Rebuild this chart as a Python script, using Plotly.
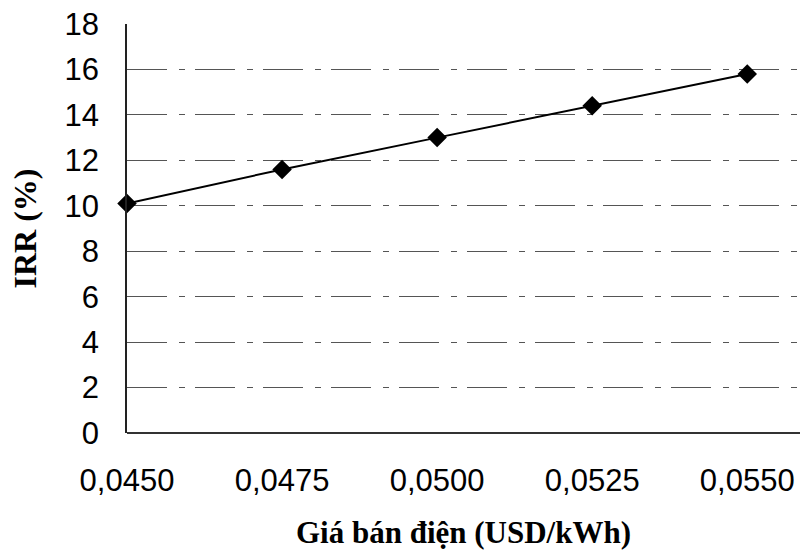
import plotly.graph_objects as go

price = [0.0450, 0.0475, 0.0500, 0.0525, 0.0550]
irr = [10.1, 11.6, 13.0, 14.4, 15.8]
x_ticks = [0.0450, 0.0475, 0.0500, 0.0525, 0.0550]
y_ticks = list(range(0, 19, 2))

fig = go.Figure()
fig.add_trace(go.Scatter(
    x=price, y=irr, mode="lines+markers",
    line=dict(color="black", width=2),
    marker=dict(symbol="diamond", size=15, color="black"),
    cliponaxis=False, showlegend=False,
))

fig.update_layout(
    width=803, height=550,
    margin=dict(l=127, r=3, t=24, b=117),
    paper_bgcolor="white", plot_bgcolor="white",
    separators=",.",
    font=dict(family="Liberation Sans, Arial", color="black"),
    xaxis=dict(
        range=[0.0450, 0.05585], tickvals=x_ticks, tickformat=".4f",
        showgrid=False, zeroline=False, showline=False, automargin=False,
        ticks="", ticklabelstandoff=26,
        tickfont=dict(size=31, family="Liberation Sans, Arial"),
        title=dict(text="<b>Giá bán điện (USD/kWh)</b>", standoff=28,
                   font=dict(size=31, family="Liberation Serif, Times New Roman")),
    ),
    yaxis=dict(
        range=[0, 18], tickvals=y_ticks, automargin=False,
        showgrid=True, gridcolor="#555555", gridwidth=1,
        griddash="40px,12px,6px,10px",
        zeroline=True, zerolinecolor="#333333", zerolinewidth=1.5,
        showline=True, linecolor="#222222", linewidth=1.5,
        ticks="", ticklabelstandoff=20,
        tickfont=dict(size=31, family="Liberation Sans, Arial"),
        title=dict(text="<b>IRR (%)</b>", standoff=18,
                   font=dict(size=32, family="Liberation Serif, Times New Roman")),
    ),
)

fig.write_html("out.html", config={"displayModeBar": False},
               post_script="document.body.style.margin='0';")
